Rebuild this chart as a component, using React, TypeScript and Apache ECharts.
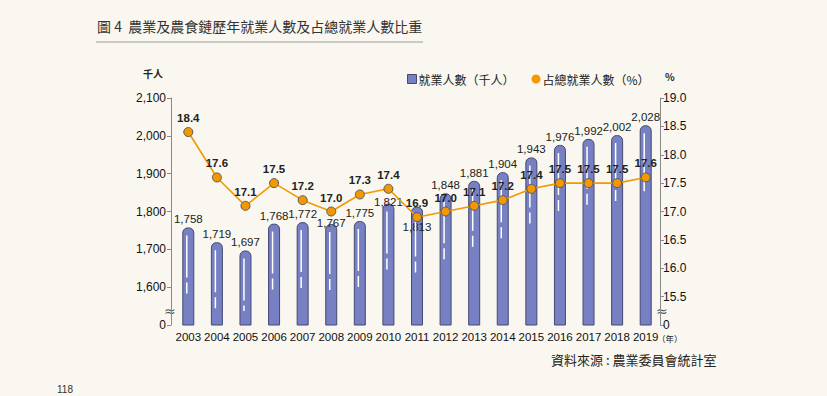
import React, { useEffect, useRef } from "react";
import * as echarts from "echarts";

const years = ["2003", "2004", "2005", "2006", "2007", "2008", "2009", "2010", "2011", "2012", "2013", "2014", "2015", "2016", "2017", "2018", "2019"];
const workers = [1758, 1719, 1697, 1768, 1772, 1767, 1775, 1821, 1813, 1848, 1881, 1904, 1943, 1976, 1992, 2002, 2028];
const shares = [18.4, 17.6, 17.1, 17.5, 17.2, 17.0, 17.3, 17.4, 16.9, 17.0, 17.1, 17.2, 17.4, 17.5, 17.5, 17.5, 17.6];
// vertical nudges of a few bar labels that sit under line points
const barLabelShift: Record<string, number> = { "2008": 7, "2010": 6, "2011": 28 };

const title = "圖 4  農業及農食鏈歷年就業人數及占總就業人數比重";
const seriesNames = ["就業人數（千人）", "占總就業人數（%）"];
const source = "資料來源 : 農業委員會統計室";

const NUM_FONT = "'Liberation Sans Narrow', 'Liberation Sans', Arial, sans-serif";
const CJK_FONT = "'Noto Sans CJK TC', 'Noto Sans CJK SC', sans-serif";

export default function App() {
  const ref = useRef<HTMLDivElement>(null);
  useEffect(() => {
    if (!ref.current) return;
    const chart = echarts.init(ref.current, null, { renderer: "svg" });
    const option: any = {
      animation: false,
      backgroundColor: "#f9f7ef",
      grid: { left: 174, right: 167, top: 98, bottom: 71 },
      legend: {
        left: 402,
        top: 68,
        itemWidth: 9,
        itemHeight: 9,
        itemGap: 17,
        textStyle: { fontSize: 12, color: "#222", fontFamily: CJK_FONT, padding: [0, 0, 0, -3] },
        data: [
          { name: seriesNames[0], icon: "rect", itemStyle: { color: "#7680c2", borderColor: "#444a72", borderWidth: 1 } },
          { name: seriesNames[1], icon: "circle", itemStyle: { color: "#f39800", borderWidth: 0 } },
        ],
      },
      xAxis: {
        type: "category",
        data: years,
        axisLine: { show: false },
        axisTick: { show: false },
        axisLabel: { interval: 0, fontSize: 11.5, color: "#111", fontFamily: NUM_FONT, margin: 6 },
      },
      yAxis: [
        {
          type: "value",
          min: 1500,
          max: 2100,
          interval: 100,
          offset: 3,
          splitLine: { show: false },
          axisLine: { show: true, lineStyle: { color: "#8a8a8a", width: 1 } },
          axisTick: { show: true, length: 4, lineStyle: { color: "#8a8a8a" } },
          axisLabel: {
            fontSize: 12,
            color: "#111",
            fontFamily: NUM_FONT,
            margin: 5,
            formatter: (v: number) => (v === 1500 ? "0" : v.toLocaleString("en-US")),
          },
        },
        {
          type: "value",
          min: 15,
          max: 19,
          interval: 0.5,
          position: "right",
          splitLine: { show: false },
          axisLine: { show: true, lineStyle: { color: "#8a8a8a", width: 1 } },
          axisTick: { show: true, length: 4, lineStyle: { color: "#8a8a8a" } },
          axisLabel: {
            fontSize: 12,
            color: "#111",
            fontFamily: NUM_FONT,
            margin: 3,
            formatter: (v: number) => (v === 15 ? "0" : v.toFixed(1)),
          },
        },
      ],
      series: [
        {
          name: seriesNames[0],
          type: "bar",
          yAxisIndex: 0,
          barWidth: 12,
          z: 2,
          itemStyle: { color: "#7680c2", borderColor: "#444a72", borderWidth: 1, borderRadius: [5, 5, 0, 0] },
          label: {
            show: true,
            position: "top",
            distance: 2,
            fontSize: 11.5,
            color: "#222",
            fontFamily: NUM_FONT,
            formatter: (p: any) => p.value.toLocaleString("en-US"),
          },
          data: workers.map((v, i) => {
            const shift = barLabelShift[years[i]];
            return shift ? { value: v, label: { offset: [0, shift] } } : v;
          }),
        },
        {
          name: "highlight",
          type: "custom",
          yAxisIndex: 0,
          z: 3,
          silent: true,
          renderItem: (_params: any, api: any) => {
            const top = api.coord([api.value(0), api.value(1)]);
            const base = api.coord([api.value(0), 1500]);
            const y0 = top[1] + 8;
            const y1 = Math.min(y0 + 72, base[1] - 14);
            return {
              type: "line",
              shape: { x1: top[0] - 1.5, y1: y0, x2: top[0] - 1.5, y2: y1 },
              style: { stroke: "#ffffff", lineWidth: 1.5, lineDash: [42, 5, 11, 300] },
            };
          },
          data: workers.map((v, i) => [i, v]),
        },
        {
          name: seriesNames[1],
          type: "line",
          yAxisIndex: 1,
          z: 4,
          symbol: "circle",
          symbolSize: 9,
          lineStyle: { color: "#f39800", width: 1.6 },
          itemStyle: { color: "#f39800", borderColor: "#5a5a5a", borderWidth: 1 },
          label: {
            show: true,
            position: "top",
            distance: 3,
            fontSize: 11.5,
            fontWeight: "bold",
            color: "#222",
            fontFamily: "'Liberation Sans', Arial, sans-serif",
            formatter: (p: any) => Number(p.value).toFixed(1),
          },
          data: shares,
        },
      ],
      graphic: [
        {
          type: "text",
          left: 97,
          top: 19,
          style: { text: title, fontSize: 14, fill: "#333", fontFamily: CJK_FONT },
        },
        {
          type: "line",
          shape: { x1: 96, y1: 42, x2: 423, y2: 42 },
          style: { stroke: "#9a9a9a", lineWidth: 1 },
        },
        {
          type: "text",
          left: 143,
          top: 68,
          style: { text: "千人", fontSize: 10, fontWeight: "bold", fill: "#222", fontFamily: CJK_FONT },
        },
        {
          type: "text",
          left: 665,
          top: 71,
          style: { text: "%", fontSize: 10, fontWeight: "bold", fill: "#222", fontFamily: CJK_FONT },
        },
        {
          type: "text",
          left: 164,
          top: 304,
          style: { text: "≈", fontSize: 14, fill: "#555", fontFamily: "'DejaVu Sans', sans-serif" },
        },
        {
          type: "text",
          left: 656,
          top: 304,
          style: { text: "≈", fontSize: 14, fill: "#555", fontFamily: "'DejaVu Sans', sans-serif" },
        },
        {
          type: "text",
          left: 657,
          top: 334,
          style: { text: "（年）", fontSize: 8.5, fill: "#222", fontFamily: CJK_FONT },
        },
        {
          type: "text",
          left: 551,
          top: 353,
          style: { text: source, fontSize: 13, fill: "#222", fontFamily: CJK_FONT },
        },
        {
          type: "text",
          left: 57,
          top: 384,
          style: { text: "118", fontSize: 10, fill: "#333", fontFamily: NUM_FONT },
        },
      ],
    };
    chart.setOption(option);
    return () => chart.dispose();
  }, []);
  return <div ref={ref} style={{ position: "fixed", left: 0, top: 0, width: 827, height: 396 }} />;
}
